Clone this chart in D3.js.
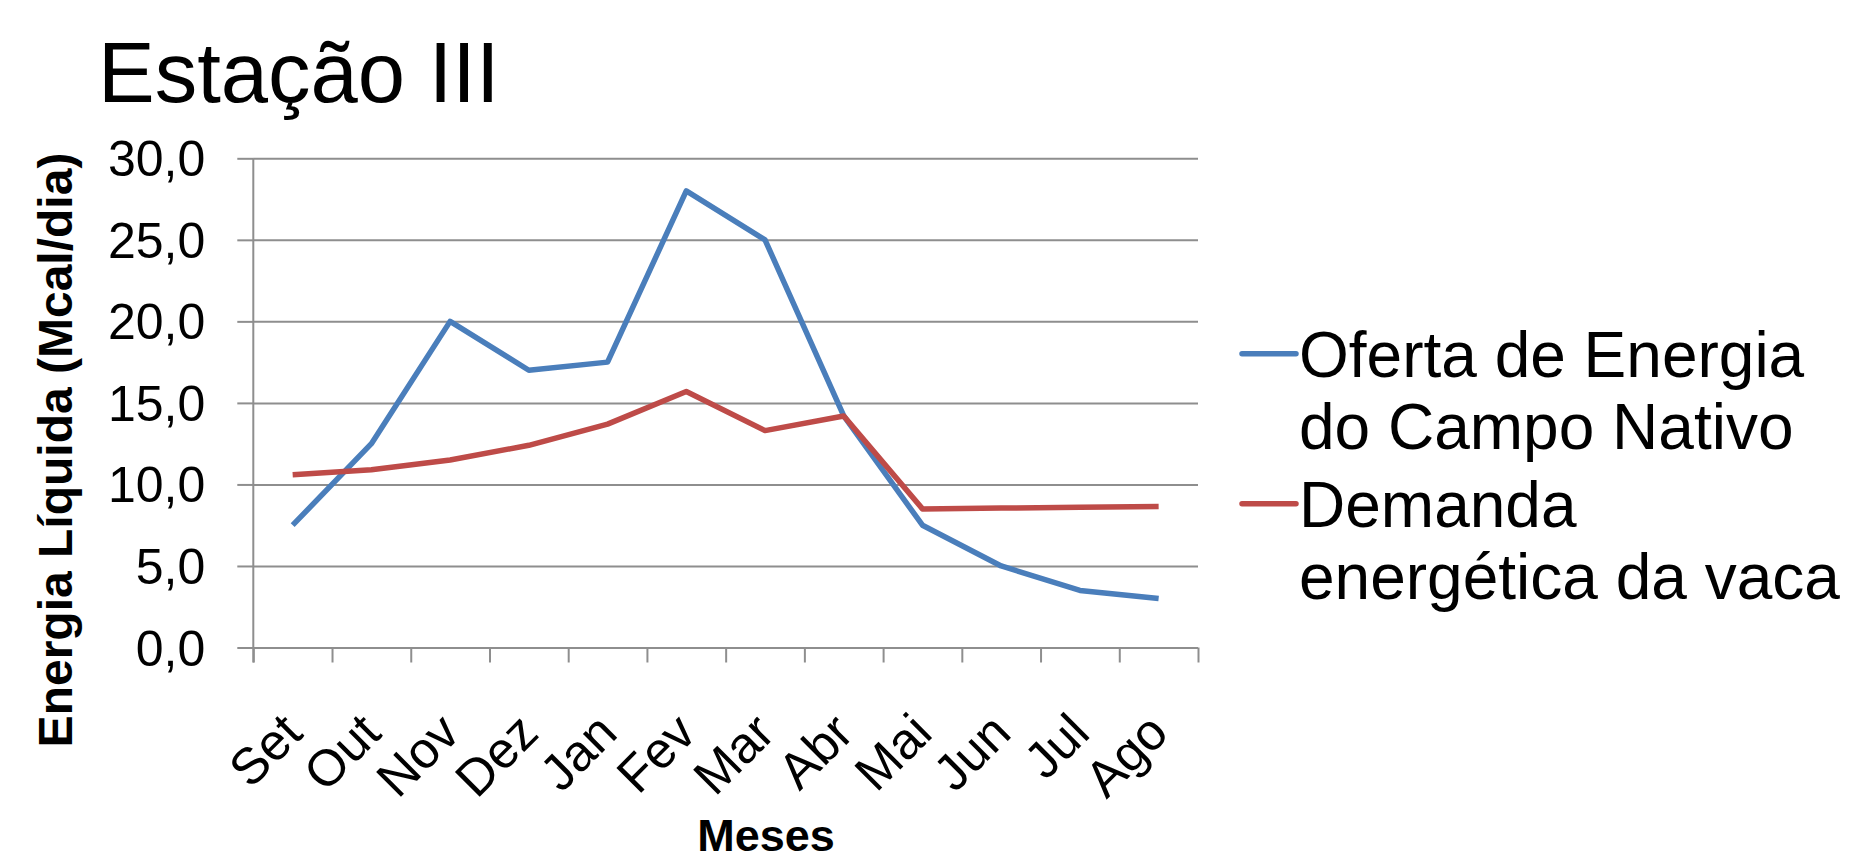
<!DOCTYPE html>
<html>
<head>
<meta charset="utf-8">
<script src="https://cdn.jsdelivr.net/npm/d3@7"></script>
<style>
  body { margin: 0; background: #fff; }
  text { font-family: "Liberation Sans", Arial, sans-serif; fill: #000; }
</style>
</head>
<body>
<div id="chart"></div>
<script>
// data
const months = ["Set", "Out", "Nov", "Dez", "Jan", "Fev", "Mar", "Abr", "Mai", "Jun", "Jul", "Ago"];
const oferta = [7.5, 12.5, 20.0, 17.0, 17.5, 28.0, 25.0, 14.2, 7.5, 5.0, 3.5, 3.0];
const demanda = [10.6, 10.9, 11.5, 12.4, 13.7, 15.7, 13.3, 14.2, 8.5, 8.55, 8.6, 8.65];
const yTicks = [0, 5, 10, 15, 20, 25, 30];
const seriesNames = [["Oferta de Energia", "do Campo Nativo"], ["Demanda", "energética da vaca"]];
const seriesColors = ["#4a7ebb", "#be4b48"];

const W = 1873, H = 860;
const margin = { top: 158.3, left: 253.3, right: 675, bottom: 212.5 };
const plotW = W - margin.left - margin.right;
const plotH = H - margin.top - margin.bottom;
const gridColor = "#8e8e8e";

const svg = d3.select("#chart").append("svg")
    .attr("width", W)
    .attr("height", H);

// title
svg.append("text")
    .attr("x", 98)
    .attr("y", 101.7)
    .style("font-size", "85px")
    .text("Estação III");

const g = svg.append("g")
    .attr("transform", `translate(${margin.left},${margin.top})`);

const x = d3.scaleBand().domain(months).range([0, plotW]).padding(0);
const xEdge = d3.scaleLinear().domain([0, months.length]).range([0, plotW]);
const y = d3.scaleLinear().domain([0, 30]).range([plotH, 0]);

// horizontal gridlines
g.append("g")
    .call(d3.axisLeft(y).tickValues(yTicks).tickSize(-plotW).tickFormat(""))
    .call(s => s.select(".domain").remove())
    .call(s => s.selectAll("line").attr("stroke", gridColor).attr("stroke-width", 2));

// y axis with outward ticks and labels
g.append("g")
    .call(d3.axisLeft(y).tickValues(yTicks).tickSize(16).tickSizeOuter(0).tickPadding(32)
        .tickFormat(d => d3.format(".1f")(d).replace(".", ",")))
    .call(s => s.select(".domain").attr("stroke", gridColor).attr("stroke-width", 2)
        .attr("d", `M0,0V${plotH + 15}`))
    .call(s => s.selectAll("line").attr("stroke", gridColor).attr("stroke-width", 2))
    .call(s => s.selectAll("text")
        .style("font-size", "50px")
        .style("font-family", "'Liberation Sans', Arial, sans-serif")
        .attr("fill", "#000")
        .attr("dy", "0.35em"));

// x axis: ticks on category boundaries
g.append("g")
    .attr("transform", `translate(0,${plotH})`)
    .call(d3.axisBottom(xEdge).tickValues(d3.range(months.length + 1)).tickSize(15).tickSizeOuter(0).tickFormat(""))
    .call(s => s.select(".domain").remove())
    .call(s => s.selectAll("line").attr("stroke", gridColor).attr("stroke-width", 2));

// rotated month labels
g.append("g")
    .selectAll("text")
    .data(months)
    .join("text")
    .attr("transform", d => `translate(${x(d) + x.bandwidth() / 2 + 12},${plotH + 88}) rotate(-45)`)
    .attr("text-anchor", "end")
    .style("font-size", "51px")
    .text(d => d);

// lines
const line = d3.line()
    .x((d, i) => x(months[i]) + x.bandwidth() / 2)
    .y(d => y(d));

[oferta, demanda].forEach((vals, k) => {
    g.append("path")
        .datum(vals)
        .attr("fill", "none")
        .attr("stroke", seriesColors[k])
        .attr("stroke-width", 5.5)
        .attr("stroke-linejoin", "round")
        .attr("d", line);
});

// axis titles
svg.append("text")
    .attr("transform", "translate(72,450) rotate(-90)")
    .attr("text-anchor", "middle")
    .style("font-size", "48px")
    .style("font-weight", "bold")
    .text("Energia Líquida (Mcal/dia)");

svg.append("text")
    .attr("x", 766)
    .attr("y", 851)
    .attr("text-anchor", "middle")
    .style("font-size", "45px")
    .style("font-weight", "bold")
    .text("Meses");

// legend
const legend = svg.append("g").attr("transform", "translate(1242,0)");
const entryTop = [376.7, 526.7];
seriesNames.forEach((lines, k) => {
    const e = legend.append("g").attr("transform", `translate(0,${entryTop[k]})`);
    e.append("line")
        .attr("x1", 0).attr("x2", 54)
        .attr("y1", -23).attr("y2", -23)
        .attr("stroke", seriesColors[k])
        .attr("stroke-width", 5.5)
        .attr("stroke-linecap", "round");
    e.selectAll("text")
        .data(lines)
        .join("text")
        .attr("x", 57)
        .attr("y", (d, i) => i * 72)
        .style("font-size", "64px")
        .text(d => d);
});
</script>
</body>
</html>
